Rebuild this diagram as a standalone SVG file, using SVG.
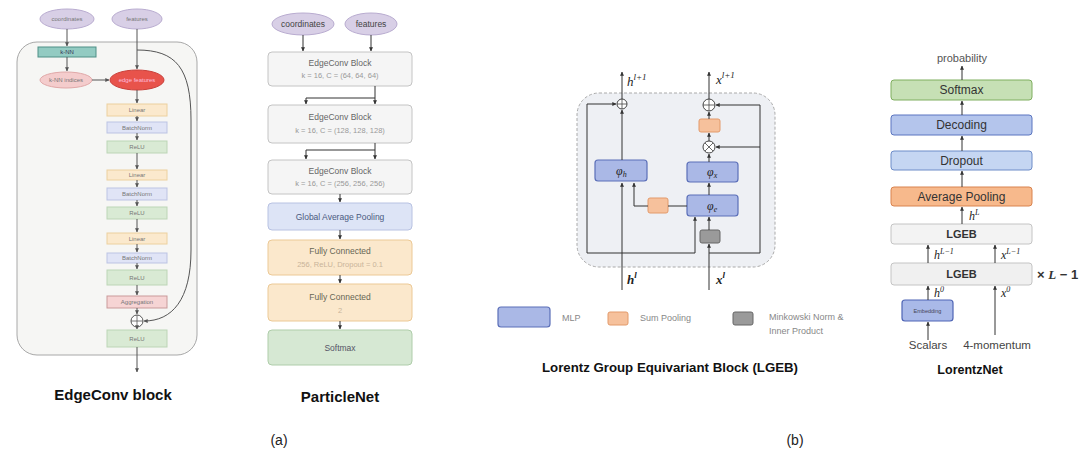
<svg xmlns="http://www.w3.org/2000/svg" width="1086" height="453" viewBox="0 0 1086 453">
<defs>
<marker id="ah" viewBox="0 0 6 6" refX="5.5" refY="3" markerWidth="4" markerHeight="4" orient="auto"><path d="M0,0 L6,3 L0,6 z" fill="#333"/></marker>
<marker id="ahg" viewBox="0 0 6 6" refX="5.5" refY="3" markerWidth="4" markerHeight="4" orient="auto"><path d="M0,0 L6,3 L0,6 z" fill="#555"/></marker>
<style>
text{font-family:"Liberation Sans",Arial,sans-serif;}
.cap{font-weight:bold;font-size:15px;fill:#111;text-anchor:middle;}
.lbl{font-size:14px;fill:#222;text-anchor:middle;}
.sm{font-size:6px;fill:#777;text-anchor:middle;}
.pn{font-size:8.5px;fill:#666;text-anchor:middle;}
.pn2{font-size:7.5px;fill:#999;text-anchor:middle;}
.ln{stroke:#333;stroke-width:1;fill:none;}
.lg{stroke:#555;stroke-width:1;fill:none;}
.ell{fill:#d8cfe6;stroke:#b9acd0;stroke-width:1;}
.lin{fill:#fbe9cd;stroke:#ecd09e;stroke-width:1;}
.bn{fill:#e0e4f6;stroke:#bcc3e3;stroke-width:1;}
.relu{fill:#d9ead4;stroke:#bcd5b6;stroke-width:1;}
.ecb{fill:#f5f5f5;stroke:#c4c4c4;stroke-width:1;}
.mlp{fill:#aab8e6;stroke:#5b6fb8;stroke-width:1.2;}
.sp{fill:#f6c19c;stroke:#e39a6a;stroke-width:1;}
.mk{fill:#9a9a9a;stroke:#666;stroke-width:1;}
.m{font-family:"Liberation Serif",serif;font-style:italic;fill:#222;}
.ln2{font-size:12px;fill:#333;text-anchor:middle;}
</style>
</defs>

<!-- (a) EdgeConv block -->
<g id="edgeconv-container"><rect x="17" y="42" width="180" height="313" rx="20" fill="#f6f6f4" stroke="#a8a8a8" stroke-width="1"/></g>
<g id="ec-coordinates"><ellipse cx="67" cy="19" rx="27" ry="10" class="ell"/><text x="67" y="21" class="sm">coordinates</text></g>
<g id="ec-features"><ellipse cx="137" cy="19" rx="25" ry="10" class="ell"/><text x="137" y="21" class="sm">features</text></g>
<g id="ec-knn"><rect x="38" y="47" width="58" height="10" fill="#93cbc2" stroke="#4e8f86"/><text x="67" y="54" class="sm" fill="#444" style="fill:#335">k-NN</text></g>
<g id="ec-knn-indices"><ellipse cx="66" cy="80" rx="26" ry="8" fill="#f4cccc" stroke="#e0a8a8"/><text x="66" y="82" class="sm">k-NN indices</text></g>
<g id="ec-edge-features"><ellipse cx="137" cy="80" rx="27" ry="10" fill="#e8534b" stroke="#c9403a"/><text x="137" y="82" class="sm" style="fill:#fbd">edge features</text></g>
<g id="ec-linear1"><rect x="107" y="104" width="60" height="12" class="lin"/><text x="137" y="112" class="sm">Linear</text></g>
<g id="ec-bn1"><rect x="107" y="122" width="60" height="11" class="bn"/><text x="137" y="130" class="sm">BatchNorm</text></g>
<g id="ec-relu1"><rect x="107" y="141" width="60" height="12" class="relu"/><text x="137" y="149" class="sm">ReLU</text></g>
<g id="ec-linear2"><rect x="107" y="170" width="60" height="10" class="lin"/><text x="137" y="177" class="sm">Linear</text></g>
<g id="ec-bn2"><rect x="107" y="188" width="60" height="12" class="bn"/><text x="137" y="196" class="sm">BatchNorm</text></g>
<g id="ec-relu2"><rect x="107" y="207" width="60" height="12" class="relu"/><text x="137" y="215" class="sm">ReLU</text></g>
<g id="ec-linear3"><rect x="107" y="233" width="60" height="11" class="lin"/><text x="137" y="241" class="sm">Linear</text></g>
<g id="ec-bn3"><rect x="107" y="253" width="60" height="10" class="bn"/><text x="137" y="260" class="sm">BatchNorm</text></g>
<g id="ec-relu3"><rect x="107" y="270" width="60" height="15" class="relu"/><text x="137" y="280" class="sm">ReLU</text></g>
<g id="ec-aggregation"><rect x="107" y="296" width="60" height="12" fill="#f6d4d4" stroke="#c99a9a"/><text x="137" y="304" class="sm">Aggregation</text></g>
<g id="ec-add"><circle cx="137" cy="321" r="6" fill="#fff" stroke="#555"/><path d="M131,321 H143 M137,315 V327" stroke="#555" stroke-width="0.8"/></g>
<g id="ec-relu4"><rect x="107" y="330" width="60" height="17" class="relu"/><text x="137" y="341" class="sm">ReLU</text></g>
<text x="113" y="400" class="cap">EdgeConv block</text>

<g id="ec-connectors" class="lg" marker-end="url(#ahg)">
<path d="M67,29 V46"/><path d="M67,57 V71"/><path d="M92,80 H109"/>
<path d="M137,29 V69"/><path d="M137,90 V103"/><path d="M137,116 V121"/><path d="M137,133 V140"/>
<path d="M137,153 V169"/><path d="M137,180 V187"/><path d="M137,200 V206"/><path d="M137,219 V232"/>
<path d="M137,244 V252"/><path d="M137,263 V269"/><path d="M137,285 V295"/><path d="M137,308 V314"/>
<path d="M137,327 V329"/><path d="M137,347 V372"/>
<path d="M137,50 C176,50 191,68 191,120 L191,250 C191,300 172,321 144,321"/>
</g>

<!-- ParticleNet -->
<g id="pn-coordinates"><ellipse cx="303" cy="24" rx="31" ry="11" class="ell"/><text x="303" y="27" font-size="8.5" text-anchor="middle" fill="#444">coordinates</text></g>
<g id="pn-features"><ellipse cx="371" cy="24" rx="26" ry="11" class="ell"/><text x="371" y="27" font-size="8.5" text-anchor="middle" fill="#444">features</text></g>
<g id="pn-ecb1"><rect x="268" y="52" width="144" height="34" rx="4" class="ecb"/><text x="340" y="66" class="pn">EdgeConv Block</text><text x="340" y="78" class="pn2">k = 16, C = (64, 64, 64)</text></g>
<g id="pn-ecb2"><rect x="268" y="105" width="144" height="38" rx="4" class="ecb"/><text x="340" y="120" class="pn">EdgeConv Block</text><text x="340" y="133" class="pn2">k = 16, C = (128, 128, 128)</text></g>
<g id="pn-ecb3"><rect x="268" y="160" width="144" height="34" rx="4" class="ecb"/><text x="340" y="174" class="pn">EdgeConv Block</text><text x="340" y="186" class="pn2">k = 16, C = (256, 256, 256)</text></g>
<g id="pn-gap"><rect x="268" y="203" width="144" height="27" rx="4" fill="#dde4f6" stroke="#b8c2e2"/><text x="340" y="220" font-size="8.5" text-anchor="middle" fill="#4a5a80">Global Average Pooling</text></g>
<g id="pn-fc1"><rect x="268" y="240" width="144" height="35" rx="4" fill="#fbe8cc" stroke="#ecc996"/><text x="340" y="254" font-size="8.5" text-anchor="middle" fill="#665">Fully Connected</text><text x="340" y="267" class="pn2" style="fill:#c9b49a">256, ReLU, Dropout = 0.1</text></g>
<g id="pn-fc2"><rect x="268" y="284" width="144" height="37" rx="4" fill="#fbe8cc" stroke="#ecc996"/><text x="340" y="300" font-size="8.5" text-anchor="middle" fill="#665">Fully Connected</text><text x="340" y="313" class="pn2" style="fill:#c9b49a">2</text></g>
<g id="pn-softmax"><rect x="268" y="330" width="144" height="35" rx="4" fill="#d6e8d3" stroke="#afcdaa"/><text x="340" y="351" font-size="8.5" text-anchor="middle" fill="#556">Softmax</text></g>
<text x="340" y="402" class="cap">ParticleNet</text>

<g id="pn-connectors" class="ln" marker-end="url(#ah)">
<path d="M303,35 V51"/><path d="M371,35 V51"/>
<path d="M375,86 V104"/><path d="M375,98 H306 V104"/>
<path d="M375,143 V159"/><path d="M375,150 H306 V159"/>
<path d="M340,194 V202"/><path d="M340,230 V239"/><path d="M340,275 V283"/><path d="M340,321 V329"/>
</g>

<text x="279" y="445" class="lbl">(a)</text>

<!-- (b) LGEB -->
<g id="lgeb-container"><rect x="577" y="93" width="198" height="174" rx="22" fill="#eef0f4" stroke="#aaa" stroke-dasharray="3,2"/></g>
<g id="lgeb-phi-h"><rect x="595" y="160" width="52" height="21" rx="3" class="mlp"/><text x="616" y="175" class="m" font-size="12">φ<tspan font-size="8" dy="2">h</tspan></text></g>
<g id="lgeb-phi-x"><rect x="687" y="162" width="51" height="20" rx="3" class="mlp"/><text x="707" y="176" class="m" font-size="12">φ<tspan font-size="8" dy="2">x</tspan></text></g>
<g id="lgeb-phi-e"><rect x="687" y="195" width="51" height="21" rx="3" class="mlp"/><text x="707" y="210" class="m" font-size="12">φ<tspan font-size="8" dy="2">e</tspan></text></g>
<g id="lgeb-sumpool-h"><rect x="648" y="198" width="20" height="15" rx="2" class="sp"/></g>
<g id="lgeb-sumpool-x"><rect x="699" y="119" width="21" height="13" rx="2" class="sp"/></g>
<g id="lgeb-minkowski"><rect x="700" y="230" width="20" height="13" rx="2" class="mk"/></g>
<g id="lgeb-add-h"><circle cx="622" cy="104" r="5" fill="#fff" stroke="#444"/><path d="M617,104 H627 M622,99 V109" stroke="#444" stroke-width="0.8"/></g>
<g id="lgeb-add-x"><circle cx="709" cy="105" r="6" fill="#fff" stroke="#444"/><path d="M703,105 H715 M709,99 V111" stroke="#444" stroke-width="0.8"/></g>
<g id="lgeb-mul-x"><circle cx="709" cy="147" r="6" fill="#fff" stroke="#444"/><path d="M705,143 L713,151 M713,143 L705,151" stroke="#444" stroke-width="0.8"/></g>

<g id="lgeb-connectors">
<g class="ln">
<path d="M695,253 H587 V104 H616" marker-end="url(#ah)"/>
<path d="M695,253 V217" marker-end="url(#ah)"/>
<path d="M709,253 H760 V105 H716" marker-end="url(#ah)"/>
<path d="M760,147 H716" marker-end="url(#ah)"/>
<path d="M687,206 H668"/>
<path d="M648,206 H634 V183" marker-end="url(#ah)"/>
<path d="M622,290 V183" marker-end="url(#ah)"/>
<path d="M622,160 V110" marker-end="url(#ah)"/>
<path d="M622,99 V72" marker-end="url(#ah)"/>
<path d="M709,290 V244" marker-end="url(#ah)"/>
<path d="M709,230 V217" marker-end="url(#ah)"/>
<path d="M709,195 V183" marker-end="url(#ah)"/>
<path d="M709,162 V154" marker-end="url(#ah)"/>
<path d="M709,141 V133" marker-end="url(#ah)"/>
<path d="M709,119 V112" marker-end="url(#ah)"/>
<path d="M709,99 V72" marker-end="url(#ah)"/>
</g>
</g>
<text x="627" y="86" class="m" font-size="13">h<tspan font-size="9" dy="-6">l+1</tspan></text>
<text x="716" y="84" class="m" font-size="13">x<tspan font-size="9" dy="-6">l+1</tspan></text>
<text x="627" y="284" class="m" font-size="13" font-weight="bold">h<tspan font-size="9" dy="-6">l</tspan></text>
<text x="716" y="284" class="m" font-size="13" font-weight="bold">x<tspan font-size="9" dy="-6">l</tspan></text>

<g id="legend">
<rect x="498" y="307" width="52" height="20" rx="3" class="mlp"/><text x="562" y="321" font-size="9" fill="#888">MLP</text>
<rect x="608" y="312" width="20" height="13" rx="2" class="sp"/><text x="640" y="321" font-size="9" fill="#888">Sum Pooling</text>
<rect x="733" y="312" width="20" height="13" rx="2" class="mk"/><text x="769" y="320" font-size="9" fill="#888">Minkowski Norm &amp;</text><text x="769" y="334" font-size="9" fill="#888">Inner Product</text>
</g>
<text x="670" y="372" class="cap" font-size="12.5" textLength="256" lengthAdjust="spacingAndGlyphs" style="font-size:12.5px">Lorentz Group Equivariant Block (LGEB)</text>
<text x="795" y="445" class="lbl">(b)</text>

<!-- LorentzNet -->
<g id="ln-softmax"><rect x="891" y="80" width="141" height="20" rx="3" fill="#c6e0b5" stroke="#7fae5f"/><text x="961.5" y="94" class="ln2">Softmax</text></g>
<g id="ln-decoding"><rect x="891" y="115" width="141" height="20" rx="3" fill="#b4c5ec" stroke="#5b75c0"/><text x="961.5" y="129" class="ln2">Decoding</text></g>
<g id="ln-dropout"><rect x="891" y="151" width="141" height="19" rx="3" fill="#c5d6f2" stroke="#6d8cc8"/><text x="961.5" y="165" class="ln2">Dropout</text></g>
<g id="ln-avgpool"><rect x="891" y="187" width="141" height="19" rx="3" fill="#f7b98c" stroke="#d9834e"/><text x="961.5" y="201" class="ln2">Average Pooling</text></g>
<g id="ln-lgeb1"><rect x="891" y="224" width="141" height="20" rx="3" fill="#f3f3f3" stroke="#c4c4c4"/><text x="961.5" y="238" class="ln2" font-weight="bold" style="font-size:11px">LGEB</text></g>
<g id="ln-lgeb2"><rect x="891" y="263" width="141" height="22" rx="3" fill="#f0f0f0" stroke="#c4c4c4"/><text x="961.5" y="278" class="ln2" font-weight="bold" style="font-size:11px">LGEB</text></g>
<g id="ln-embedding"><rect x="902" y="300" width="51" height="21" rx="3" fill="#a9b9e8" stroke="#4f65b5" stroke-width="1.2"/><text x="927.5" y="313" font-size="5.5" text-anchor="middle" fill="#445">Embedding</text></g>
<g id="ln-connectors" class="ln" marker-end="url(#ah)">
<path d="M962,80 V66"/><path d="M962,115 V101"/><path d="M962,151 V136"/><path d="M962,187 V171"/>
<path d="M962,224 V207"/><path d="M928,263 V245"/><path d="M995,263 V245"/>
<path d="M928,300 V286"/><path d="M995,335 V286"/><path d="M928,340 V322"/>
</g>
<text x="962" y="62" font-size="11" text-anchor="middle" fill="#555">probability</text>
<text x="969" y="220" class="m" font-size="12">h<tspan font-size="8" dy="-5">L</tspan></text>
<text x="934" y="259" class="m" font-size="12">h<tspan font-size="8" dy="-5">L−1</tspan></text>
<text x="1001" y="259" class="m" font-size="12">x<tspan font-size="8" dy="-5">L−1</tspan></text>
<text x="934" y="297" class="m" font-size="12">h<tspan font-size="8" dy="-5">0</tspan></text>
<text x="1001" y="297" class="m" font-size="12">x<tspan font-size="8" dy="-5">0</tspan></text>
<text x="1037" y="279" font-size="13" font-weight="bold" fill="#333">× <tspan font-family="Liberation Serif" font-style="italic">L</tspan> − 1</text>
<text x="928" y="349" font-size="11.5" text-anchor="middle" fill="#444">Scalars</text>
<text x="997" y="349" font-size="11.5" text-anchor="middle" fill="#444">4-momentum</text>
<text x="970" y="374" class="cap" style="font-size:12.5px">LorentzNet</text>
</svg>
